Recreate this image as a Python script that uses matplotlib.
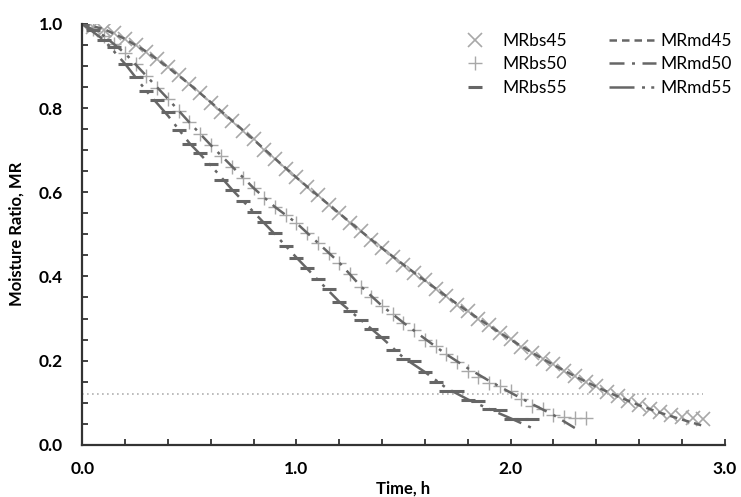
import numpy as np
import matplotlib
matplotlib.use("Agg")
from matplotlib import pyplot as plt

plt.rcParams["font.family"] = ["Lato", "DejaVu Sans"]

# experimental data, sampled every 0.05 h
t45 = np.round(np.arange(0, 2.901, 0.05), 2)
mr45 = [1.000, 0.993, 0.985, 0.978, 0.963, 0.950, 0.934, 0.917, 0.897, 0.878,
        0.856, 0.835, 0.813, 0.790, 0.770, 0.746, 0.726, 0.701, 0.680, 0.656,
        0.636, 0.612, 0.593, 0.570, 0.551, 0.528, 0.508, 0.487, 0.467, 0.446,
        0.428, 0.408, 0.391, 0.370, 0.353, 0.333, 0.317, 0.298, 0.284, 0.266,
        0.251, 0.233, 0.219, 0.203, 0.191, 0.175, 0.164, 0.150, 0.139, 0.126,
        0.116, 0.104, 0.095, 0.086, 0.077, 0.072, 0.066, 0.064, 0.062]

t50 = np.round(np.arange(0, 2.351, 0.05), 2)
mr50 = [1.000, 0.988, 0.972, 0.953, 0.930, 0.904, 0.876, 0.848, 0.822, 0.793,
        0.766, 0.738, 0.712, 0.686, 0.661, 0.634, 0.610, 0.587, 0.565, 0.546,
        0.527, 0.503, 0.480, 0.456, 0.433, 0.405, 0.376, 0.350, 0.330, 0.310,
        0.290, 0.272, 0.250, 0.234, 0.215, 0.197, 0.176, 0.160, 0.146, 0.140,
        0.128, 0.108, 0.092, 0.085, 0.072, 0.066, 0.064, 0.064]

t55 = np.round(np.arange(0, 2.101, 0.05), 2)
mr55 = [1.000, 0.985, 0.962, 0.945, 0.905, 0.873, 0.840, 0.820, 0.790, 0.748,
        0.715, 0.693, 0.668, 0.630, 0.605, 0.580, 0.553, 0.530, 0.503, 0.473,
        0.443, 0.420, 0.393, 0.370, 0.340, 0.318, 0.296, 0.275, 0.255, 0.225,
        0.205, 0.200, 0.172, 0.150, 0.128, 0.127, 0.107, 0.105, 0.085, 0.083,
        0.062, 0.062, 0.062]

# model curves, every 0.1 h
tm45 = np.round(np.arange(0, 2.901, 0.1), 2)
md45 = [1.000, 0.988, 0.964, 0.934, 0.897, 0.857, 0.814, 0.770, 0.725, 0.680,
        0.635, 0.592, 0.550, 0.508, 0.467, 0.428, 0.390, 0.353, 0.317, 0.283,
        0.250, 0.219, 0.190, 0.163, 0.138, 0.115, 0.094, 0.076, 0.060, 0.045]

tm50 = np.round(np.arange(0, 2.301, 0.1), 2)
md50 = [1.000, 0.972, 0.930, 0.876, 0.822, 0.766, 0.712, 0.661, 0.610, 0.565,
        0.527, 0.480, 0.433, 0.377, 0.330, 0.290, 0.252, 0.215, 0.182, 0.152,
        0.124, 0.097, 0.071, 0.040]

tm55 = np.round(np.arange(0, 2.101, 0.1), 2)
md55 = [1.000, 0.962, 0.905, 0.840, 0.782, 0.717, 0.664, 0.606, 0.553, 0.500,
        0.445, 0.392, 0.340, 0.297, 0.254, 0.207, 0.173, 0.135, 0.108, 0.085,
        0.063, 0.040]

mr_eq = 0.12
mr_eq_end = 2.9

fig = plt.figure(figsize=(7.41, 4.97), dpi=100)
ax = fig.add_axes([0.111, 0.105, 0.867, 0.847])

light = "#a8a8a8"
dark = "#666666"

ax.plot([0, mr_eq_end], [mr_eq, mr_eq], linestyle=(0, (1, 2)), color="#b0b0b0", lw=1.2)

h1, = ax.plot(t45, mr45, "x", ms=10, mew=1.2, color=light, label="MRbs45", ls="none")
h2, = ax.plot(t50, mr50, "+", ms=10, mew=1.0, color=light, label="MRbs50", ls="none")
h3, = ax.plot(t55, mr55, "_", ms=10, mew=2.2, color=dark, label="MRbs55", ls="none")

h4, = ax.plot(tm45, md45, color=dark, lw=1.8, ls=(0, (3, 2)), label="MRmd45")
h5, = ax.plot(tm50, md50, color=dark, lw=1.8, ls=(0, (6, 3, 1.2, 3)), label="MRmd50")
h6, = ax.plot(tm55, md55, color=dark, lw=1.8, ls=(0, (10, 3, 1.2, 2.5, 1.2, 3)), label="MRmd55")

ax.set_xlim(0, 3.0)
ax.set_ylim(0, 1.0)
ax.set_xticks(np.arange(0, 3.01, 1.0))
ax.set_xticks(np.arange(0, 3.01, 0.2), minor=True)
ax.set_yticks(np.arange(0, 1.01, 0.2))
ax.set_yticks(np.arange(0, 1.01, 0.05), minor=True)
ax.set_xticklabels(["0.0", "1.0", "2.0", "3.0"], fontweight="bold", fontsize=12.5)
ax.set_yticklabels(["0.0", "0.2", "0.4", "0.6", "0.8", "1.0"], fontweight="bold", fontsize=12.5)
ax.tick_params(which="both", direction="in", color="#333333", width=1.3)
ax.tick_params(which="minor", length=4)
ax.tick_params(axis="x", which="major", length=4, pad=12)
ax.tick_params(axis="y", which="major", length=4, pad=14)

for s in ["top", "right"]:
    ax.spines[s].set_visible(False)
for s in ["left", "bottom"]:
    ax.spines[s].set_linewidth(1.6)
    ax.spines[s].set_color("#333333")

ax.set_xlabel("Time, h", fontweight="bold", fontsize=12, labelpad=2)
ax.set_ylabel("Moisture Ratio, MR", fontweight="bold", fontsize=12, labelpad=10)

ax.legend(handles=[h1, h2, h3, h4, h5, h6], ncol=2, frameon=False, loc="upper right",
          bbox_to_anchor=(1.035, 1.015), fontsize=12.5, handlelength=2.7,
          columnspacing=2.4, labelspacing=0.42, handletextpad=0.25)

fig.savefig("out.png", dpi=100)
